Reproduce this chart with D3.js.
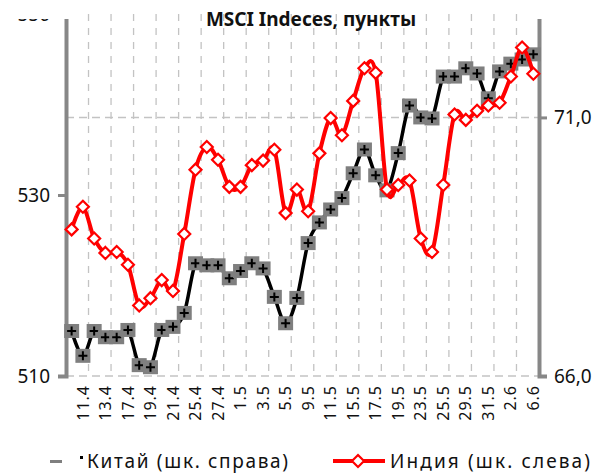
<!DOCTYPE html>
<html>
<head>
<meta charset="utf-8">
<script src="https://cdn.jsdelivr.net/npm/d3@7"></script>
<style>
  body { margin: 0; background: #fff; }
  svg { display: block; font-family: "Noto Sans", sans-serif; }
</style>
</head>
<body>
<div id="chart"></div>
<script>
// trading days, labels are shown on every second one
const dates = ["10.4", "11.4", "12.4", "13.4", "14.4", "17.4", "18.4", "19.4", "20.4", "21.4",
    "24.4", "25.4", "26.4", "27.4", "28.4", "1.5", "2.5", "3.5", "4.5", "5.5",
    "8.5", "9.5", "10.5", "11.5", "12.5", "15.5", "16.5", "17.5", "18.5", "19.5",
    "22.5", "23.5", "24.5", "25.5", "26.5", "29.5", "30.5", "31.5", "1.6", "2.6",
    "5.6", "6.6"];

// Китай, right scale
const china = [66.87, 66.39, 66.87, 66.75, 66.75, 66.89, 66.21, 66.17, 66.89, 66.95,
    67.22, 68.18, 68.14, 68.14, 67.89, 68.03, 68.18, 68.08, 67.53, 67.02,
    67.51, 68.57, 68.97, 69.22, 69.44, 69.92, 70.38, 69.88, 69.59, 70.31,
    71.23, 71.0, 70.98, 71.79, 71.79, 71.95, 71.85, 71.37, 71.89, 72.04,
    72.12, 72.22];

// Индия, left scale
const india = [526.2, 528.7, 525.2, 523.6, 523.7, 522.3, 517.8, 518.6, 520.6, 519.4,
    525.7, 532.8, 535.3, 533.9, 530.9, 530.9, 533.3, 533.8, 535.0, 528.0,
    530.6, 528.2, 534.6, 538.5, 536.6, 540.4, 544.0, 543.5, 530.6, 531.1,
    531.6, 525.2, 523.7, 531.1, 538.9, 538.3, 539.3, 539.9, 540.2, 543.1,
    546.3, 543.4];

const leftTicks = [510, 530, 550];
const rightTicks = [66, 71];

const width = 601, height = 474;
const margin = { top: 14, left: 66, bottom: 98, right: 62 };
const axisGray = "#878787";
const gridGray = "#c3c3c3";

const svg = d3.select("#chart").append("svg")
    .attr("width", width)
    .attr("height", height);

const x = d3.scaleBand()
    .domain(dates)
    .range([margin.left, width - margin.right]);
const cx = d => x(d) + x.bandwidth() / 2;

const yL = d3.scaleLinear().domain([510, 550]).range([height - margin.bottom, margin.top]);
const yR = d3.scaleLinear().domain([66, 73]).range([height - margin.bottom, margin.top]);

// clip so the top of the axes is hidden like in the original
svg.append("clipPath").attr("id", "axclip")
    .append("rect")
    .attr("x", -200).attr("y", margin.top + 5)
    .attr("width", 400).attr("height", height);

// grid
const grid = svg.append("g");
grid.selectAll(".vg")
    .data(d3.range(2, dates.length, 2))
    .enter().append("line")
    .attr("x1", i => x(dates[i])).attr("x2", i => x(dates[i]))
    .attr("y1", margin.top).attr("y2", yR(66))
    .attr("stroke", gridGray).attr("stroke-width", 1.3)
    .attr("stroke-dasharray", "7,7");
grid.selectAll(".hg")
    .data(rightTicks)
    .enter().append("line")
    .attr("x1", margin.left).attr("x2", width - margin.right)
    .attr("y1", d => yR(d)).attr("y2", d => yR(d))
    .attr("stroke", gridGray).attr("stroke-width", 1.5)
    .attr("stroke-dasharray", "8,5");

// left axis
const leftAxis = svg.append("g")
    .attr("clip-path", "url(#axclip)")
    .attr("transform", `translate(${margin.left},0)`)
    .call(d3.axisLeft(yL).tickValues(leftTicks).tickSize(8).tickPadding(8).tickFormat(d3.format("d")));
leftAxis.select(".domain").attr("stroke", axisGray).attr("stroke-width", 4);
leftAxis.selectAll(".tick line").attr("stroke", axisGray).attr("stroke-width", 3);
leftAxis.selectAll("text").attr("font-size", 19).attr("fill", "#111").attr("font-family", "Noto Sans");

// right axis
const rightAxis = svg.append("g")
    .attr("clip-path", "url(#axclip)")
    .attr("transform", `translate(${width - margin.right},0)`)
    .call(d3.axisRight(yR).tickValues(rightTicks).tickSize(8).tickPadding(7)
        .tickFormat(d => d3.format(".1f")(d).replace(".", ",")));
rightAxis.select(".domain").attr("stroke", axisGray).attr("stroke-width", 4);
rightAxis.selectAll(".tick line").attr("stroke", axisGray).attr("stroke-width", 3);
rightAxis.selectAll("text").attr("font-size", 19).attr("fill", "#111").attr("font-family", "Noto Sans");

// category labels
const xAxis = svg.append("g")
    .attr("transform", `translate(0,${yR(66)})`)
    .call(d3.axisBottom(x).tickValues(dates.filter((d, i) => i % 2 === 1)).tickSize(0));
xAxis.select(".domain").remove();
xAxis.selectAll("text")
    .attr("font-size", 16)
    .attr("font-family", "Noto Sans")
    .attr("fill", "#111")
    .attr("letter-spacing", 1)
    .attr("text-anchor", "end")
    .attr("dy", "0.35em")
    .attr("transform", "translate(0,9) rotate(-90)")
    .attr("x", 0).attr("y", 0);

const curve = d3.curveCatmullRom.alpha(0);

// Китай
const chinaLine = d3.line().x((d, i) => cx(dates[i])).y(d => yR(d)).curve(curve);
svg.append("path")
    .attr("d", chinaLine(china))
    .attr("fill", "none").attr("stroke", "#000").attr("stroke-width", 3.5);
const cm = svg.append("g").selectAll("g")
    .data(china)
    .enter().append("g")
    .attr("transform", (d, i) => `translate(${cx(dates[i])},${yR(d)})`);
cm.append("rect")
    .attr("x", -7.5).attr("y", -7).attr("width", 15).attr("height", 14)
    .attr("fill", "#7f7f7f");
cm.append("path")
    .attr("d", "M-4.5,0H4.5M0,-4.5V4.5")
    .attr("stroke", "#000").attr("stroke-width", 2);

// Индия
const indiaLine = d3.line().x((d, i) => cx(dates[i])).y(d => yL(d)).curve(curve);
svg.append("path")
    .attr("d", indiaLine(india))
    .attr("fill", "none").attr("stroke", "#ff0000").attr("stroke-width", 4);
const diamond = "M0,-6L6,0L0,6L-6,0Z";
svg.append("g").selectAll("path")
    .data(india)
    .enter().append("path")
    .attr("d", diamond)
    .attr("transform", (d, i) => `translate(${cx(dates[i])},${yL(d)})`)
    .attr("fill", "#fff").attr("stroke", "#ff0000").attr("stroke-width", 2.2);

// title
svg.append("text")
    .attr("x", 311).attr("y", 26)
    .attr("text-anchor", "middle")
    .attr("font-size", 19).attr("font-weight", "bold")
    .attr("fill", "#111")
    .text("MSCI Indeces, пункты");

// legend
const legY = 461;
const leg = svg.append("g");
leg.append("rect").attr("x", 50).attr("y", legY - 1).attr("width", 12).attr("height", 3).attr("fill", "#7f7f7f");
leg.append("rect").attr("x", 80).attr("y", legY - 5).attr("width", 3).attr("height", 3).attr("fill", "#000");
leg.append("text")
    .attr("x", 87).attr("y", legY + 7)
    .attr("font-size", 19).attr("fill", "#111")
    .attr("textLength", 201).attr("lengthAdjust", "spacing")
    .text("Китай (шк. справа)");
leg.append("line")
    .attr("x1", 333).attr("x2", 385).attr("y1", legY).attr("y2", legY)
    .attr("stroke", "#ff0000").attr("stroke-width", 4);
leg.append("path")
    .attr("d", diamond)
    .attr("transform", `translate(358,${legY})`)
    .attr("fill", "#fff").attr("stroke", "#ff0000").attr("stroke-width", 2.2);
leg.append("text")
    .attr("x", 390).attr("y", legY + 7)
    .attr("font-size", 19).attr("fill", "#111")
    .attr("textLength", 200).attr("lengthAdjust", "spacing")
    .text("Индия (шк. слева)");
</script>
</body>
</html>
